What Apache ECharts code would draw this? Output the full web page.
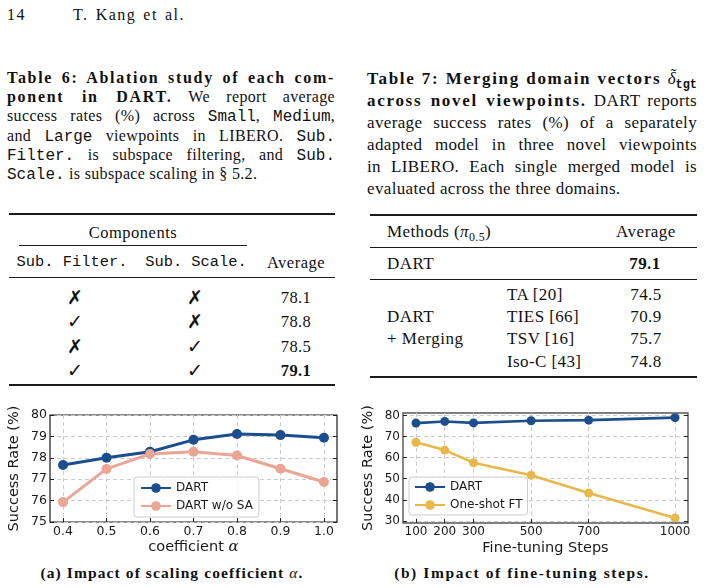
<!DOCTYPE html>
<html><head><meta charset="utf-8">
<script src="https://cdn.jsdelivr.net/npm/echarts@6/dist/echarts.min.js"></script>
<style>
html,body{margin:0;padding:0;background:#fff;width:705px;height:588px;overflow:hidden;}
#page{position:absolute;left:0;top:0;width:705px;height:588px;font-family:'Liberation Serif','DejaVu Serif',serif;color:#111;}
.p{position:absolute;white-space:nowrap;}
.cap{letter-spacing:0.35px;}
.cap b{letter-spacing:1.7px;}
.tt{font-family:'Liberation Mono','DejaVu Sans Mono',monospace;letter-spacing:0;}
.r{position:absolute;background:#1a1a1a;}
sub{font-size:70%;vertical-align:-0.3em;line-height:0;}
.dl{position:relative;display:inline-block;font-style:italic;font-weight:normal;letter-spacing:0;}
.dl span{position:absolute;left:0.18em;top:-0.24em;font-style:normal;}
#chart{position:absolute;left:0;top:0;width:705px;height:588px;}
</style></head>
<body>
<div id="page"></div>
<div id="chart"></div>
<script>
// ---------- data ----------
const alphaValues = [0.4, 0.5, 0.6, 0.7, 0.8, 0.9, 1.0];
const dartAlpha   = [77.66, 78.0, 78.28, 78.84, 79.11, 79.06, 78.94];
const dartNoSA    = [75.93, 77.48, 78.18, 78.28, 78.11, 77.49, 76.87];
const alphaTicks  = [0.4, 0.5, 0.6, 0.7, 0.8, 0.9, 1.0];
const rateTicksA  = [75, 76, 77, 78, 79, 80];

const stepValues   = [100, 200, 300, 500, 700, 1000];
const dartSteps    = [76.4, 77.2, 76.5, 77.5, 77.8, 79.0];
const oneShotSteps = [67.3, 63.6, 57.6, 51.7, 43.2, 31.4];
const stepTicks    = [100, 200, 300, 500, 700, 1000];
const rateTicksB   = [30, 40, 50, 60, 70, 80];

const filterMarks = [false, true, false, true];
const scaleMarks  = [false, false, true, true];
const ablationAvg = ['78.1', '78.8', '78.5', '79.1'];
const mergeMethods = ['TA [20]', 'TIES [66]', 'TSV [16]', 'Iso-C [43]'];
const mergeAvg     = ['74.5', '70.9', '75.7', '74.8'];
const dartAvg      = '79.1';

// ---------- text page ----------
const page = document.getElementById('page');
function put(html, x, y, o) {
  o = o || {};
  const d = document.createElement('div');
  const fs = o.fs || 16, lh = o.lh || Math.round(fs * 1.3);
  d.className = 'p';
  d.style.fontSize = fs + 'px';
  d.style.lineHeight = lh + 'px';
  d.style.top = (y - lh / 2) + 'px';
  if (o.c) { d.style.left = (x - 200) + 'px'; d.style.width = '400px'; d.style.textAlign = 'center'; }
  else d.style.left = x + 'px';
  if (o.b) d.style.fontWeight = 'bold';
  if (o.ff) d.style.fontFamily = o.ff;
  if (o.ls) d.style.letterSpacing = o.ls + 'px';
  d.innerHTML = html;
  page.appendChild(d);
  return d;
}
function rule(x1, x2, y, h) {
  const d = document.createElement('div');
  d.className = 'r';
  d.style.left = x1 + 'px'; d.style.width = (x2 - x1) + 'px';
  d.style.top = (y - h / 2) + 'px'; d.style.height = h + 'px';
  page.appendChild(d);
}
// fill a single line to an exact width by adjusting word spacing
function fitLine(d, w) {
  const nat = d.getBoundingClientRect().width;
  const spaces = (d.textContent.match(/ /g) || []).length;
  if (spaces > 0) d.style.wordSpacing = ((w - nat) / spaces) + 'px';
}
function para(lines, x, top, w, fs, lh) {
  lines.forEach((l, i) => {
    const d = document.createElement('div');
    d.className = 'p cap';
    d.style.left = x + 'px';
    d.style.top = (top + i * lh) + 'px';
    d.style.fontSize = fs + 'px';
    d.style.lineHeight = lh + 'px';
    d.innerHTML = l;
    page.appendChild(d);
    if (i !== lines.length - 1) fitLine(d, w);
  });
}

put('14', 7, 14, {fs: 16, ls: 1.5});
const hd = put('T. Kang et al.', 73, 14, {fs: 16, ls: 1.5});
fitLine(hd, 112);

para([
  '<b>Table 6: Ablation study of each com-</b>',
  '<b>ponent in DART.</b> We report average',
  'success rates (%) across <span class="tt">Small</span>, <span class="tt">Medium</span>,',
  'and <span class="tt">Large</span> viewpoints in LIBERO. <span class="tt">Sub.</span>',
  '<span class="tt">Filter.</span> is subspace filtering, and <span class="tt">Sub.</span>',
  '<span class="tt">Scale.</span> is subspace scaling in § 5.2.'
], 7, 68, 328, 16, 19.2);

para([
  '<b>Table 7: Merging domain vectors <span class="dl">δ<span>˜</span></span><sub class="tt">tgt</sub></b>',
  '<b>across novel viewpoints.</b> DART reports',
  'average success rates (%) of a separately',
  'adapted model in three novel viewpoints',
  'in LIBERO. Each single merged model is',
  'evaluated across the three domains.'
], 367, 68, 330, 17, 22);

// Table 6
rule(9, 335, 214, 1.5);
put('Components', 133, 232, {c: true, fs: 16.5, ls: 0.5});
rule(19, 247, 245.7, 1);
put('Sub. Filter.', 72, 262, {c: true, fs: 15.4, ff: "'Liberation Mono','DejaVu Sans Mono',monospace"});
put('Sub. Scale.', 196, 262, {c: true, fs: 15.4, ff: "'Liberation Mono','DejaVu Sans Mono',monospace"});
put('Average', 296, 262, {c: true, fs: 16.5, ls: 0.5});
rule(9, 335, 277.7, 1);
const rowY6 = [297, 321, 346, 370];
const mark = v => v ? '✓' : '✗';
rowY6.forEach((y, i) => {
  put(mark(filterMarks[i]), 75, y, {c: true, fs: 19, ff: "'DejaVu Sans',sans-serif"});
  put(mark(scaleMarks[i]), 195, y, {c: true, fs: 19, ff: "'DejaVu Sans',sans-serif"});
  put(ablationAvg[i], 296, y, {c: true, fs: 16.5, b: i === 3, ls: 0.4});
});
rule(9, 335, 385, 1.5);

// Table 7
rule(370, 697, 215, 1.5);
put('Methods (<i>π</i><sub>0.5</sub>)', 387, 232, {fs: 17, ls: 0.4});
put('Average', 646, 232, {c: true, fs: 17, ls: 0.5});
rule(370, 697, 247, 1);
put('DART', 387, 264, {fs: 17, ls: 0.5});
put(dartAvg, 645, 264, {c: true, fs: 17, b: true, ls: 0.4});
rule(370, 697, 279, 1);
const rowY7 = [295, 317, 339, 362];
rowY7.forEach((y, i) => {
  put(mergeMethods[i], 507, y, {fs: 17, ls: 0.4});
  put(mergeAvg[i], 646, y, {c: true, fs: 17, ls: 0.4});
});
put('DART', 387, 317, {fs: 17, ls: 0.5});
put('+ Merging', 387, 339, {fs: 17, ls: 0.5});
rule(370, 697, 377, 1.5);

// sub-figure captions
put('(a) Impact of scaling coefficient <i style="font-weight:normal">α</i>.', 172, 573, {c: true, fs: 15.5, b: true, ls: 1.1});
put('(b) Impact of fine-tuning steps.', 522, 573, {c: true, fs: 15.5, b: true, ls: 1.6});

// ---------- charts ----------
const BLUE = '#1c4e8e', SALMON = '#eaa595', GOLD = '#e9b84a';
const FONT = 'DejaVu Sans';
const chart = echarts.init(document.getElementById('chart'), null, {renderer: 'canvas'});

function xAx(grid, min, max, ticks, fmt, name, fs) {
  return {
    gridIndex: grid, type: 'value', min: min, max: max,
    axisLine: {show: false},
    axisTick: {show: true, inside: true, length: 4, customValues: ticks, lineStyle: {color: '#222'}},
    axisLabel: {customValues: ticks, formatter: fmt, fontSize: fs, color: '#1a1a1a', margin: 3, fontFamily: FONT},
    splitLine: {show: true, lineStyle: {type: [4, 3], color: '#cccccc', width: 1}},
    name: name, nameLocation: 'middle', nameGap: 18,
    nameTextStyle: {fontSize: 14.5, color: '#1a1a1a', fontFamily: FONT,
      rich: {i: {fontSize: 15, fontStyle: 'italic', fontFamily: 'DejaVu Serif', color: '#1a1a1a'}}}
  };
}
function yAx(grid, min, max, ticks, name, fs, gap, right) {
  return {
    gridIndex: grid, type: 'value', min: min, max: max, position: right ? 'right' : 'left',
    axisLine: {show: false},
    axisTick: {show: true, inside: true, length: 4, customValues: ticks, lineStyle: {color: '#222'}},
    axisLabel: {show: !right, customValues: ticks, fontSize: fs, color: '#1a1a1a', margin: 3, fontFamily: FONT},
    splitLine: {show: !right, lineStyle: {type: [4, 3], color: '#cccccc', width: 1}},
    name: right ? '' : name, nameLocation: 'middle', nameGap: gap,
    nameTextStyle: {fontSize: 14.5, color: '#1a1a1a', fontFamily: FONT}
  };
}
function lineSeries(name, xi, yi, xs, ys, color, w, sz) {
  return {
    type: 'line', name: name, xAxisIndex: xi, yAxisIndex: yi,
    data: xs.map((x, i) => [x, ys[i]]),
    symbol: 'circle', symbolSize: sz, showSymbol: true,
    lineStyle: {color: color, width: w}, itemStyle: {color: color},
    emphasis: {disabled: true}, animation: false
  };
}
const legendBase = {
  orient: 'vertical', itemWidth: 30, itemHeight: 12, itemGap: 6,
  backgroundColor: 'rgba(255,255,255,0.85)', borderColor: '#cccccc', borderWidth: 1, borderRadius: 3,
  textStyle: {fontSize: 12, fontFamily: FONT, color: '#1a1a1a'}, selectedMode: false
};

chart.setOption({
  animation: false,
  grid: [
    {left: 50, top: 415, width: 287, height: 107, show: true, borderColor: '#1a1a1a', borderWidth: 1.2, backgroundColor: 'transparent'},
    {left: 403, top: 413, width: 285, height: 110, show: true, borderColor: '#555555', borderWidth: 1.4, backgroundColor: 'transparent'}
  ],
  xAxis: [
    xAx(0, 0.37, 1.03, alphaTicks, v => v.toFixed(1), 'coefficient {i|α}', 12.5),
    xAx(1, 55, 1045, stepTicks, v => String(v), 'Fine-tuning Steps', 12)
  ],
  yAxis: [
    yAx(0, 75, 80, rateTicksA, 'Success Rate (%)', 12.5, 28, false),
    yAx(0, 75, 80, rateTicksA, '', 12.5, 28, true),
    yAx(1, 29.0, 81.2, rateTicksB, 'Success Rate (%)', 12, 27, false),
    yAx(1, 29.0, 81.2, rateTicksB, '', 12, 27, true)
  ],
  legend: [
    Object.assign({}, legendBase, {left: 134, top: 477, padding: [5, 6], data: ['DART', 'DART w/o SA']}),
    Object.assign({}, legendBase, {left: 409, top: 477, padding: [4, 5], data: ['DART', 'One-shot FT']})
  ],
  series: [
    lineSeries('DART', 0, 0, alphaValues, dartAlpha, BLUE, 3, 10),
    lineSeries('DART w/o SA', 0, 0, alphaValues, dartNoSA, SALMON, 3, 10),
    lineSeries('DART', 1, 2, stepValues, dartSteps, BLUE, 2.6, 9),
    lineSeries('One-shot FT', 1, 2, stepValues, oneShotSteps, GOLD, 2.6, 9)
  ]
});
</script>
</body></html>
